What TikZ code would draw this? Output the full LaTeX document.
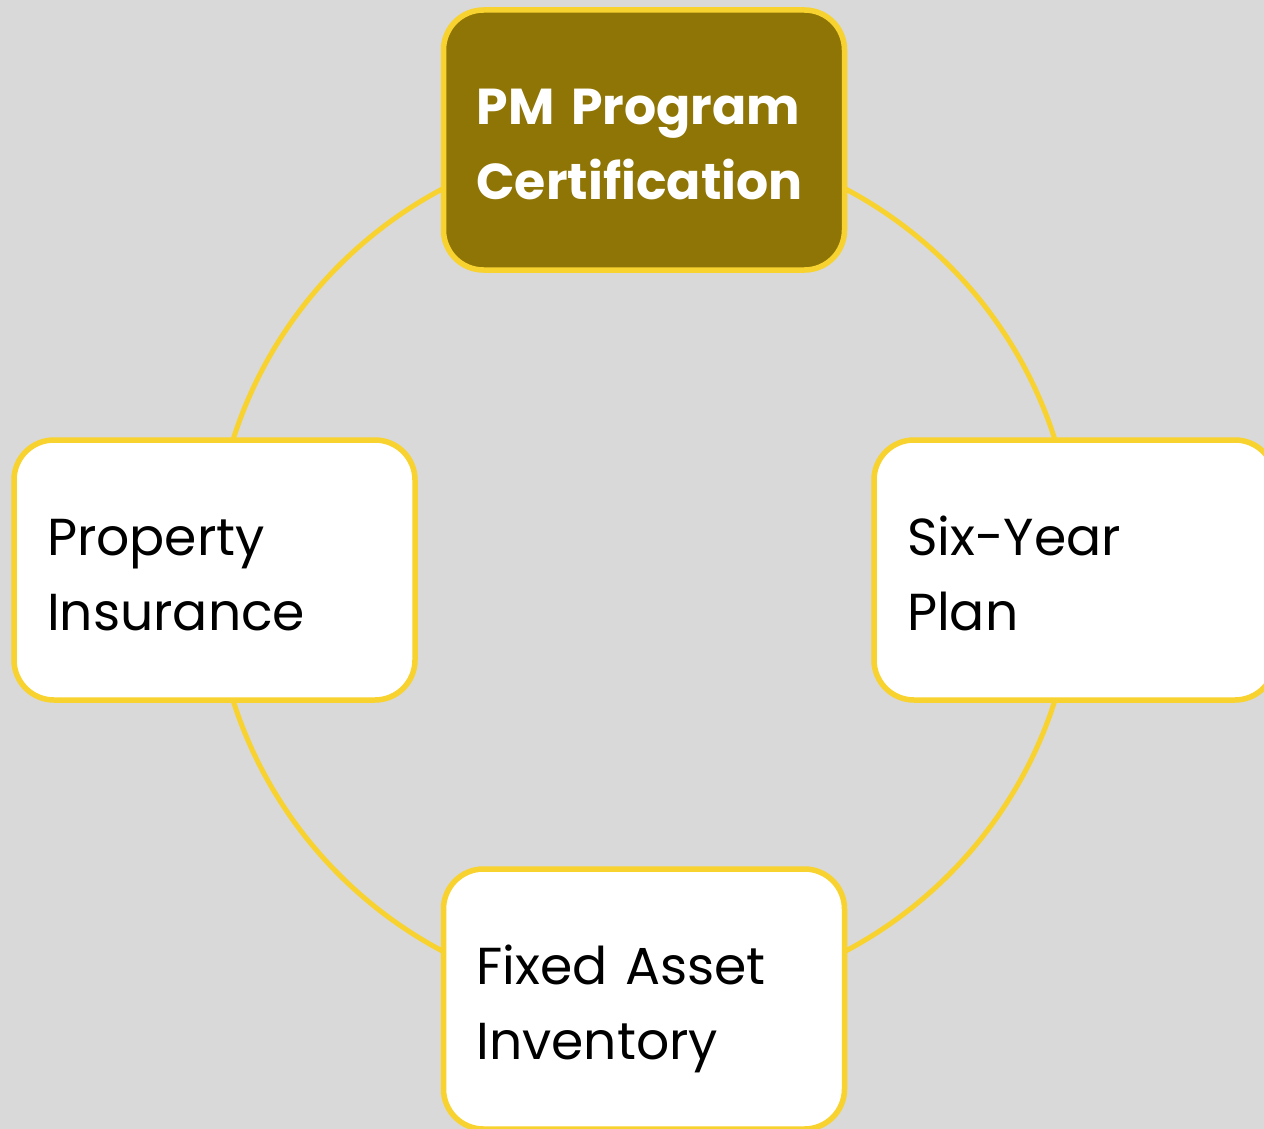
\documentclass[tikz,border=0pt]{standalone}
\usepackage{fontspec}
\setmainfont{Poppins}
\definecolor{ringgold}{RGB}{248,210,46}
\definecolor{certfill}{RGB}{143,117,6}
\definecolor{canvas}{RGB}{217,217,217}
\newcommand{\linestrut}{\rule[-15pt]{0pt}{75pt}}

\begin{document}
\begin{tikzpicture}[x=1pt,y=-1pt,
        stage/.style={draw=ringgold,line width=5.5pt,fill=white,rounded corners=40pt,
            minimum width=401pt,minimum height=260pt,inner xsep=33pt,inner ysep=0pt,
            text width=335pt,align=left,font=\fontsize{52}{75}\selectfont,
            execute at begin node=\linestrut,execute at end node=\linestrut},
        firststage/.style={stage,fill=certfill,text=white,
            font=\fontsize{50.5}{75}\selectfont\bfseries}]
    \fill[canvas] (0,0) rectangle (1264,1129);
    \useasboundingbox (0,0) rectangle (1264,1129);

    % ring behind the four stages
    \coordinate (hub) at (644,570);
    \draw[ringgold,line width=5pt] (hub) circle (431);

    \node[firststage] (cert) at (644,140) {PM Program\\Certification};
    \node[stage] (plan) at (1074.5,570) {Six-Year\\Plan};
    \node[stage] (inventory) at (644,999) {Fixed Asset\\Inventory};
    \node[stage] (insurance) at (214.5,570) {Property\\Insurance};
\end{tikzpicture}
\end{document}
